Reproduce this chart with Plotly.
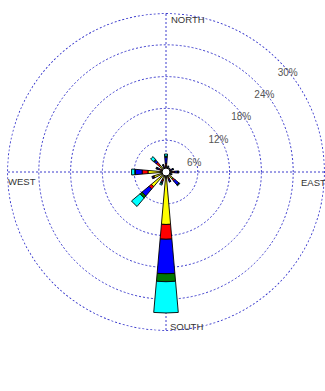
import plotly.graph_objects as go

# 16 compass sectors, bearings in degrees clockwise from north
directions = [0, 22.5, 45, 67.5, 90, 112.5, 135, 157.5,
              180, 202.5, 225, 247.5, 270, 292.5, 315, 337.5]

# frequency (%) per sector for each wind-speed class, innermost class first
speed_lt2 = [1.2, 0.6, 0.5, 0.7, 1.2, 0.6, 1.8, 1.2, 9.9, 1.6, 3.6, 2.4, 3.4, 1.0, 1.6, 0.8]
speed_2_4 = [0.4, 0.2, 0.2, 0.3, 0.4, 0.2, 0.4, 0.3, 2.8, 0.3, 0.6, 0.2, 1.1, 0.4, 0.8, 0.3]
speed_4_6 = [1.2, 0.3, 0.2, 0.4, 0.6, 0.3, 1.0, 0.4, 6.5, 0.3, 1.7, 0.2, 1.3, 0.4, 0.5, 0.3]
speed_6_8 = [0.2, 0.05, 0.05, 0.05, 0.1, 0.05, 0.1, 0.05, 1.5, 0.1, 0.5, 0.0, 0.1, 0.1, 0.2, 0.05]
speed_gt8 = [0.4, 0.05, 0.05, 0.05, 0.1, 0.05, 0.1, 0.05, 5.9, 0.3, 2.1, 0.0, 0.6, 0.1, 0.7, 0.05]

class_names = ["< 2 m/s", "2 - 4 m/s", "4 - 6 m/s", "6 - 8 m/s", "> 8 m/s"]
class_values = [speed_lt2, speed_2_4, speed_4_6, speed_6_8, speed_gt8]
class_colors = ["#ffff00", "#ff0000", "#0000ff", "#007800", "#00ffff"]

# concentric frequency rings
ring_values = [6, 12, 18, 24, 30]
ring_labels = ["6%", "12%", "18%", "24%", "30%"]

compass_labels = ["NORTH", "EAST", "SOUTH", "WEST"]

grid_color = "rgb(60,60,205)"
grid_dash = "2px,2px"
grid_width = 1.2

fig = go.Figure()

for name, vals, col in zip(class_names, class_values, class_colors):
    fig.add_trace(go.Barpolar(
        r=vals, theta=directions, width=10, name=name,
        marker=dict(color=col, line=dict(color="black", width=0.9)),
        opacity=1,
    ))

# outermost ring sits on the edge of the radial range, so trace it explicitly
ring_theta = list(range(0, 361, 2))
fig.add_trace(go.Scatterpolar(
    r=[ring_values[-1] - 0.08] * len(ring_theta), theta=ring_theta, mode="lines",
    line=dict(color=grid_color, width=grid_width, dash=grid_dash),
    hoverinfo="skip",
))

# small white disc at the centre of the rose
fig.add_trace(go.Scatterpolar(
    r=[0], theta=[0], mode="markers",
    marker=dict(size=8, color="white", line=dict(color="black", width=1)),
    hoverinfo="skip",
))

# ring percentage labels, set just inside each ring toward the north-east
label_r = [v - 0.45 for v in ring_values]
label_theta = [73, 59, 54, 52, 51]
fig.add_trace(go.Scatterpolar(
    r=label_r, theta=label_theta, mode="text", text=ring_labels,
    textposition="middle center",
    textfont=dict(family="Liberation Sans, Arial", size=10, color="#555555"),
    hoverinfo="skip",
))

# compass words, placed just beside the ends of the axes
L, T, W = 7, 13, 318


def px(x, y):
    return (x - L) / W, 1 - (y - T) / W


compass_pos = [(170, 19), (300, 182), (169, 326), (7, 181)]
for txt, (x, y) in zip(compass_labels, compass_pos):
    xp, yp = px(x, y)
    fig.add_annotation(
        x=xp, y=yp, xref="paper", yref="paper", text=txt, showarrow=False,
        xanchor="left", yanchor="middle", borderpad=0,
        font=dict(family="Liberation Sans, Arial", size=9.5, color="#333333"),
    )

fig.update_layout(
    width=325, height=391,
    margin=dict(l=L, r=0, t=T, b=391 - T - W),
    paper_bgcolor="white",
    plot_bgcolor="white",
    showlegend=False,
    polar=dict(
        bgcolor="white",
        domain=dict(x=[0, 1], y=[0, 1]),
        barmode="stack",
        angularaxis=dict(
            rotation=90, direction="clockwise",
            tickvals=[0, 90, 180, 270], showticklabels=False, ticks="",
            showline=False, showgrid=True,
            gridcolor=grid_color, griddash=grid_dash, gridwidth=grid_width,
        ),
        radialaxis=dict(
            range=[0, 30.0], tickvals=ring_values, showticklabels=False,
            ticks="", showline=False, showgrid=True,
            gridcolor=grid_color, griddash=grid_dash, gridwidth=grid_width,
        ),
    ),
)

fig.write_html("out.html")
